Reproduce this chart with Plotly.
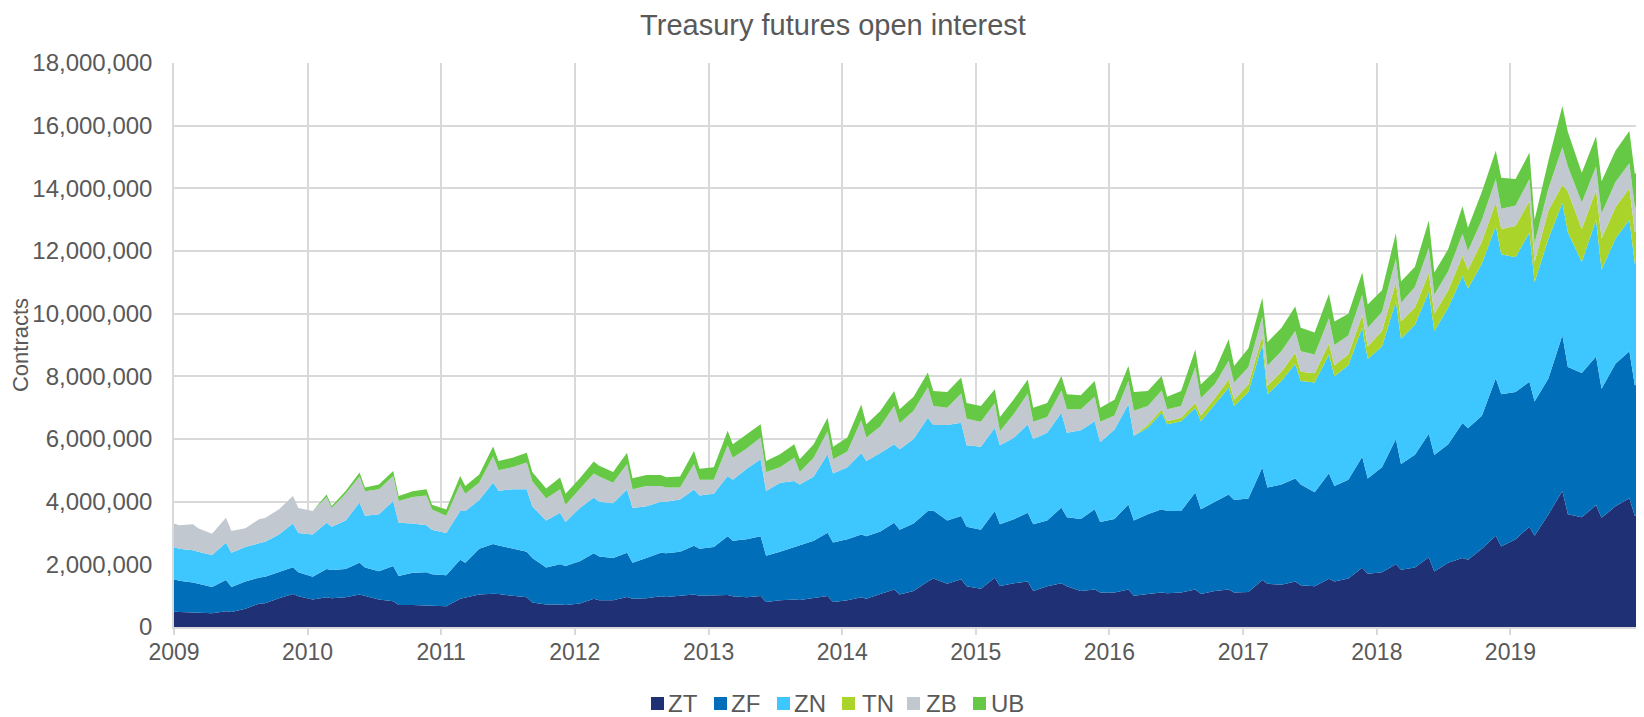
import plotly.graph_objects as go

# Dates: start, 12 sample days per year (spike / post-roll / mid points), end
YEARS = list(range(2009, 2020))
MONTH_DAYS = ["01-15", "02-22", "03-08", "04-15", "05-23", "06-07",
              "07-15", "08-23", "09-07", "10-15", "11-22", "12-07"]
DATES = ["2009-01-01"] + [f"{y}-{md}" for y in YEARS for md in MONTH_DAYS] + ["2019-12-31"]

# Open interest, thousands of contracts
ZT = [490,
      480, 470, 460, 440, 500, 480, 580, 750, 760, 920, 1050, 980,
      880, 950, 920, 950, 1040, 1000, 880, 820, 700, 700, 680, 660,
      660, 900, 940, 1040, 1060, 1050, 1000, 950, 780, 720, 720, 700,
      750, 900, 850, 850, 960, 900, 920, 980, 960, 1000, 1040, 1000,
      1000, 1020, 980, 950, 990, 800, 850, 880, 860, 920, 990, 800,
      850, 950, 900, 1050, 1200, 1040, 1150, 1450, 1550, 1380, 1520, 1300,
      1220, 1570, 1310, 1400, 1450, 1150, 1300, 1400, 1300, 1150, 1200, 1100,
      1100, 1200, 1000, 1050, 1100, 1080, 1100, 1200, 1050, 1150, 1200, 1100,
      1120, 1500, 1380, 1350, 1450, 1330, 1300, 1540, 1450, 1550, 1890, 1700,
      1750, 2000, 1830, 1900, 2230, 1770, 2050, 2200, 2150, 2500, 2910, 2570,
      2800, 3200, 2910, 3600, 4340, 3600, 3500, 3890, 3490, 3850, 4110, 3540,
      3600]
ZF = [1030,
      1000, 950, 920, 840, 1000, 800, 870, 830, 840, 830, 860, 770,
      720, 900, 900, 900, 1010, 900, 900, 1130, 930, 1030, 1070, 1020,
      990, 1250, 1110, 1460, 1590, 1550, 1500, 1450, 1420, 1180, 1280, 1250,
      1350, 1450, 1400, 1350, 1410, 1150, 1280, 1390, 1390, 1400, 1550, 1500,
      1550, 1880, 1770, 1850, 1910, 1470, 1550, 1670, 1740, 1830, 2020, 1900,
      1950, 2000, 2000, 2000, 2130, 2060, 2150, 2250, 2170, 2020, 2020, 1900,
      1880, 2130, 1970, 2040, 2200, 2130, 2100, 2410, 2200, 2300, 2560, 2250,
      2350, 2710, 2400, 2550, 2660, 2620, 2600, 3090, 2710, 2850, 3030, 2950,
      2980, 3590, 3070, 3200, 3290, 3220, 3000, 3370, 3050, 3150, 3540, 3040,
      3350, 4000, 3370, 3600, 3940, 3720, 3780, 4310, 4190, 4240, 5030, 4860,
      4700, 4630, 4290, 4340, 4970, 4700, 4610, 4740, 4110, 4550, 4690, 4170,
      4290]
ZN = [1030,
      1020, 1030, 1020, 1020, 1190, 1090, 1100, 1100, 1120, 1200, 1390, 1250,
      1350, 1480, 1380, 1550, 1920, 1650, 1820, 2070, 1700, 1570, 1500, 1420,
      1350, 1550, 1650, 1550, 1960, 1750, 1900, 2000, 1650, 1500, 1650, 1400,
      1700, 1780, 1750, 1750, 2020, 1750, 1650, 1630, 1650, 1670, 1800, 1700,
      1700, 1920, 1950, 2250, 2450, 2070, 2200, 2110, 1950, 2050, 2500, 2200,
      2300, 2600, 2400, 2500, 2500, 2570, 2700, 2980, 2730, 3050, 2980, 2600,
      2650, 2660, 2520, 2600, 2820, 2720, 2800, 3030, 2700, 2830, 2810, 2550,
      2850, 3200, 2700, 2760, 3080, 2770, 2870, 2710, 2810, 3100, 3410, 3000,
      3400, 3930, 2980, 3300, 3660, 3300, 3500, 3790, 3500, 3650, 4120, 3810,
      3850, 4400, 4000, 4150, 4530, 3960, 4370, 4690, 4460, 4860, 4860, 4470,
      4300, 4770, 3800, 4460, 4230, 4300, 3540, 4370, 3800, 4000, 4200, 3890,
      3710]
TN = [0,
      0, 0, 0, 0, 0, 0, 0, 0, 0, 0, 0, 0,
      0, 0, 0, 0, 0, 0, 0, 0, 0, 0, 0, 0,
      0, 0, 0, 0, 0, 0, 0, 0, 0, 0, 0, 0,
      0, 0, 0, 0, 0, 0, 0, 0, 0, 0, 0, 0,
      0, 0, 0, 0, 0, 0, 0, 0, 0, 0, 0, 0,
      0, 0, 0, 0, 0, 0, 0, 0, 0, 0, 0, 0,
      0, 0, 0, 0, 0, 0, 0, 0, 0, 0, 0, 0,
      0, 0, 0, 90, 110, 100, 110, 150, 180, 200, 260, 200,
      250, 280, 270, 300, 350, 300, 300, 350, 350, 350, 400, 400,
      500, 600, 550, 550, 600, 550, 550, 650, 600, 700, 750, 800,
      1000, 1000, 650, 900, 570, 1300, 1050, 950, 1000, 1000, 1000, 1000,
      1140]
ZB = [750,
      750, 830, 750, 680, 800, 690, 600, 770, 760, 810, 880, 800,
      750, 820, 600, 850, 830, 780, 800, 800, 690, 850, 950, 650,
      550, 850, 550, 550, 840, 650, 700, 850, 800, 700, 750, 550,
      600, 770, 800, 650, 810, 600, 650, 500, 450, 380, 810, 500,
      450, 980, 700, 650, 700, 610, 500, 740, 400, 600, 740, 450,
      500, 1050, 750, 850, 1220, 830, 900, 970, 600, 550, 930, 850,
      800, 790, 450, 760, 980, 550, 500, 710, 750, 670, 780, 650,
      450, 740, 800, 600, 600, 380, 370, 1150, 550, 450, 600, 550,
      550, 600, 640, 650, 700, 650, 600, 800, 650, 600, 650, 600,
      600, 750, 600, 650, 800, 600, 600, 700, 600, 700, 750, 650,
      650, 700, 600, 700, 1200, 800, 850, 750, 800, 800, 800, 800,
      750]
UB = [0,
      0, 0, 0, 0, 0, 0, 0, 0, 0, 0, 0, 0,
      0, 80, 60, 90, 130, 120, 150, 160, 160, 180, 200, 150,
      200, 270, 250, 270, 310, 300, 300, 310, 300, 320, 370, 350,
      350, 380, 350, 350, 360, 350, 350, 350, 330, 350, 420, 350,
      400, 460, 430, 450, 420, 350, 410, 430, 400, 430, 430, 400,
      450, 500, 420, 490, 480, 450, 450, 470, 480, 500, 510, 500,
      500, 440, 450, 470, 450, 450, 450, 460, 480, 450, 500, 450,
      500, 480, 600, 480, 460, 400, 480, 560, 440, 420, 680, 530,
      600, 610, 750, 740, 780, 750, 700, 780, 750, 700, 710, 740,
      700, 820, 680, 650, 870, 710, 710, 880, 740, 890, 900, 990,
      850, 840, 750, 900, 1320, 1100, 950, 960, 1030, 1000, 1030, 1060,
      1200]

SERIES = [("ZT", ZT, "#1f3174"), ("ZF", ZF, "#006eb8"), ("ZN", ZN, "#3ec7ff"),
          ("TN", TN, "#aad42a"), ("ZB", ZB, "#c1c8cf"), ("UB", UB, "#66c946")]

Y_TICKS = list(range(0, 18000001, 2000000))
X_TICKS = [f"{y}-01-01" for y in YEARS]
X_LABELS = [str(y) for y in YEARS]

FONT = "Liberation Sans, Arial, sans-serif"
TXT = "#595959"
GRID = "#d9d9d9"

# figure geometry (page body adds an 8px offset at top/left)
W, H = 1636, 709
ML, MR, MT, MB = 166, 0, 55, 90
PW, PH = W - ML - MR, H - MT - MB


def px_x(px):
    return (px - ML) / PW


def px_y(py):
    return (H - MB - py) / PH


# legend layout in figure pixels: square left edges and text starts
LEG_SQ_X = [643, 706, 769, 834, 899, 965]
LEG_TX_X = [659, 722, 785, 853, 917, 982]
LEG_SQ_Y0, LEG_SQ_Y1, LEG_TX_Y = 689, 702, 695
SQ = 13

fig = go.Figure()
for name, vals, col in SERIES:
    fig.add_trace(go.Scatter(
        x=DATES, y=[v * 1000 for v in vals], name=name,
        mode="lines", line=dict(width=0, color=col),
        fillcolor=col, stackgroup="oi", showlegend=False,
        hoverinfo="x+y+name"))

shapes, annotations = [], []
for (name, _, col), sx, tx in zip(SERIES, LEG_SQ_X, LEG_TX_X):
    shapes.append(dict(type="rect", xref="paper", yref="paper",
                       x0=px_x(sx), x1=px_x(sx + SQ),
                       y0=px_y(LEG_SQ_Y1), y1=px_y(LEG_SQ_Y0),
                       fillcolor=col, line=dict(width=0), layer="above"))
    annotations.append(dict(text=name, xref="paper", yref="paper",
                            x=px_x(tx), y=px_y(LEG_TX_Y), xanchor="left",
                            yanchor="middle", showarrow=False, borderpad=0,
                            font=dict(size=24, color=TXT, family=FONT)))

fig.update_layout(
    width=W, height=H,
    margin=dict(l=ML, r=MR, t=MT, b=MB, autoexpand=False),
    paper_bgcolor="white", plot_bgcolor="white",
    font=dict(family=FONT, size=24, color=TXT),
    title=dict(text="Treasury futures open interest", x=825 / W, xanchor="center",
               xref="container", y=1 - 16.5 / H, yref="container", yanchor="middle",
               font=dict(size=29, color=TXT, family=FONT)),
    showlegend=False,
    shapes=shapes, annotations=annotations,
    xaxis=dict(type="date", range=["2009-01-01", "2020-01-01"],
               tickvals=X_TICKS, ticktext=X_LABELS,
               showgrid=True, gridcolor=GRID, gridwidth=1.5,
               showline=True, linecolor=GRID, linewidth=2,
               ticks="outside", ticklen=6, tickcolor=GRID, tickwidth=1.5,
               tickfont=dict(size=23, color=TXT), ticklabelstandoff=-3),
    yaxis=dict(range=[0, 18000000], tickvals=Y_TICKS, tickformat=",d",
               showgrid=True, gridcolor=GRID, gridwidth=1.5,
               showline=True, linecolor=GRID, linewidth=1.5,
               zeroline=False, ticks="", ticklabelstandoff=15,
               tickfont=dict(size=24, color=TXT),
               title=dict(text="Contracts", standoff=2, font=dict(size=22, color=TXT))),
)

fig.write_html("out.html")
